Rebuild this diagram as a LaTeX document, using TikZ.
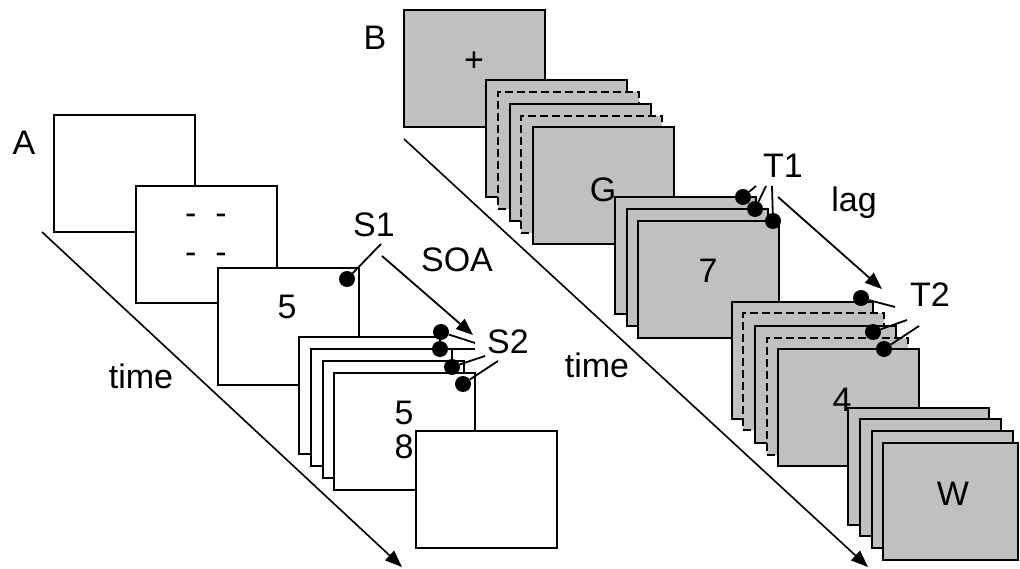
\documentclass[tikz,border=0pt]{standalone}
\usepackage{fontspec}
\setmainfont{Liberation Sans}
\usetikzlibrary{positioning,arrows.meta}
\definecolor{slideGray}{RGB}{192,192,192}
\tikzset{
  whitebox/.style={draw=black,line width=1.8pt,fill=white,anchor=north west,
    inner sep=0pt,outer sep=0pt,minimum width=141pt,minimum height=117pt},
  slide/.style={whitebox,fill=slideGray},
  dslide/.style={slide,dash pattern=on 8pt off 4pt},
  txt/.style={inner sep=0pt,anchor=base,font=\fontsize{34}{40}\selectfont},
  stimdot/.style={circle,fill=black,inner sep=0pt,minimum size=16pt},
  pointer/.style={draw=black,line width=1.8pt},
  timeline/.style={draw=black,line width=1.6pt,-{Triangle[length=17pt,width=13pt]}},
  interval/.style={draw=black,line width=1.8pt,-{Triangle[length=17pt,width=13pt]}}
}

\begin{document}
\begin{tikzpicture}[x=1pt,y=-1pt]
  \useasboundingbox (0,0) rectangle (1020,569);
  \coordinate (tA0) at (42,232);
  \coordinate (tA1) at (402,567);
  \coordinate (tB0) at (404,139);
  \coordinate (tB1) at (868,567);
  \draw[timeline] (tA0) -- (tA1);
  \draw[timeline] (tB0) -- (tB1);
  \node[txt] (labA) at (24,155) {A};
  \node[txt] (labB) at (375,50) {B};
  \node[txt] (timeA) at (141,388) {time};
  \node[txt] (timeB) at (597,377) {time};

  \node[whitebox] (blank) at (54,115) {};
  \node[whitebox] (mask) at (136,186) {};
  \node[txt] (maskup) at (206,225) {-~~-};
  \node[txt] (masklo) at (206,264) {-~~-};
  \node[whitebox] (s1box) at (218,268) {};
  \node[txt] (s1num) at (287,319) {5};
  \node[whitebox] (s2boxa) at (299,337) {};
  \node[whitebox] (s2boxb) at (311,349) {};
  \node[whitebox] (s2boxc) at (323,361) {};
  \node[whitebox] (s2boxd) at (334,373) {};
  \node[txt] (s2numa) at (404,424) {5};
  \node[txt] (s2numb) at (404,458) {8};
  \node[whitebox] (probe) at (416,431) {};

  \node[slide] (fix) at (404,10) {};
  \node (plus) at (474,61.5) {\fontsize{34}{40}\selectfont +};
  \node[slide] (rsvpa) at (486,80) {};
  \node[dslide] (rsvpb) at (498,92) {};
  \node[slide] (rsvpc) at (510,104) {};
  \node[dslide] (rsvpd) at (521,116) {};
  \node[slide] (rsvpe) at (533,127) {};
  \node[txt] (letG) at (603,202) {G};
  \node[slide] (t1a) at (615,197) {};
  \node[slide] (t1b) at (627,209) {};
  \node[slide] (t1c) at (638,221) {};
  \node[txt] (t1num) at (708,283) {7};
  \node[slide] (laga) at (732,302) {};
  \node[dslide] (lagb) at (743,313) {};
  \node[slide] (lagc) at (755,326) {};
  \node[dslide] (lagd) at (767,338) {};
  \node[slide] (t2box) at (778,349) {};
  \node[txt] (t2num) at (842,411) {4};
  \node[slide] (posta) at (848,408) {};
  \node[slide] (postb) at (860,419) {};
  \node[slide] (postc) at (872,431) {};
  \node[slide,minimum width=135pt] (postd) at (883,443) {};
  \node[txt] (letW) at (953,505) {W};

  \node[txt] (S1) at (374,237) {S1};
  \node[txt] (SOA) at (457,272) {SOA};
  \node[txt] (S2) at (508,353) {S2};
  \node[txt] (T1) at (783,178) {T1};
  \node[txt] (lag) at (854,212) {lag};
  \node[txt] (T2) at (930,307) {T2};

  \node[stimdot] (s1dot) at (347,279) {};
  \node[stimdot] (s2dota) at (441,332) {};
  \node[stimdot] (s2dotb) at (440,349) {};
  \node[stimdot] (s2dotc) at (452,367) {};
  \node[stimdot] (s2dotd) at (463,384) {};
  \node[stimdot] (t1dota) at (743,197) {};
  \node[stimdot] (t1dotb) at (755,209) {};
  \node[stimdot] (t1dotc) at (773,221) {};
  \node[stimdot] (t2dota) at (861,298) {};
  \node[stimdot] (t2dotb) at (873,332) {};
  \node[stimdot] (t2dotc) at (884,349) {};

  \coordinate (s1end) at (381,244);
  \coordinate (s2enda) at (475,343);
  \coordinate (s2endb) at (475,349);
  \coordinate (s2endc) at (485,356);
  \coordinate (s2endd) at (498,361);
  \coordinate (t1enda) at (756,186);
  \coordinate (t1endb) at (766,186);
  \coordinate (t1endc) at (772,186);
  \coordinate (t2enda) at (895,307);
  \coordinate (t2endb) at (907,320);
  \coordinate (t2endc) at (919,326);
  \coordinate (soa0) at (382,256);
  \coordinate (soa1) at (473,335);
  \coordinate (lag0) at (778,197);
  \coordinate (lag1) at (882,289);

  \draw[pointer] (s1dot) -- (s1end);
  \draw[pointer] (s2dota) -- (s2enda);
  \draw[pointer] (s2dotb) -- (s2endb);
  \draw[pointer] (s2dotc) -- (s2endc);
  \draw[pointer] (s2dotd) -- (s2endd);
  \draw[pointer] (t1dota) -- (t1enda);
  \draw[pointer] (t1dotb) -- (t1endb);
  \draw[pointer] (t1dotc) -- (t1endc);
  \draw[pointer] (t2dota) -- (t2enda);
  \draw[pointer] (t2dotb) -- (t2endb);
  \draw[pointer] (t2dotc) -- (t2endc);
  \draw[interval] (soa0) -- (soa1);
  \draw[interval] (lag0) -- (lag1);
\end{tikzpicture}
\end{document}
